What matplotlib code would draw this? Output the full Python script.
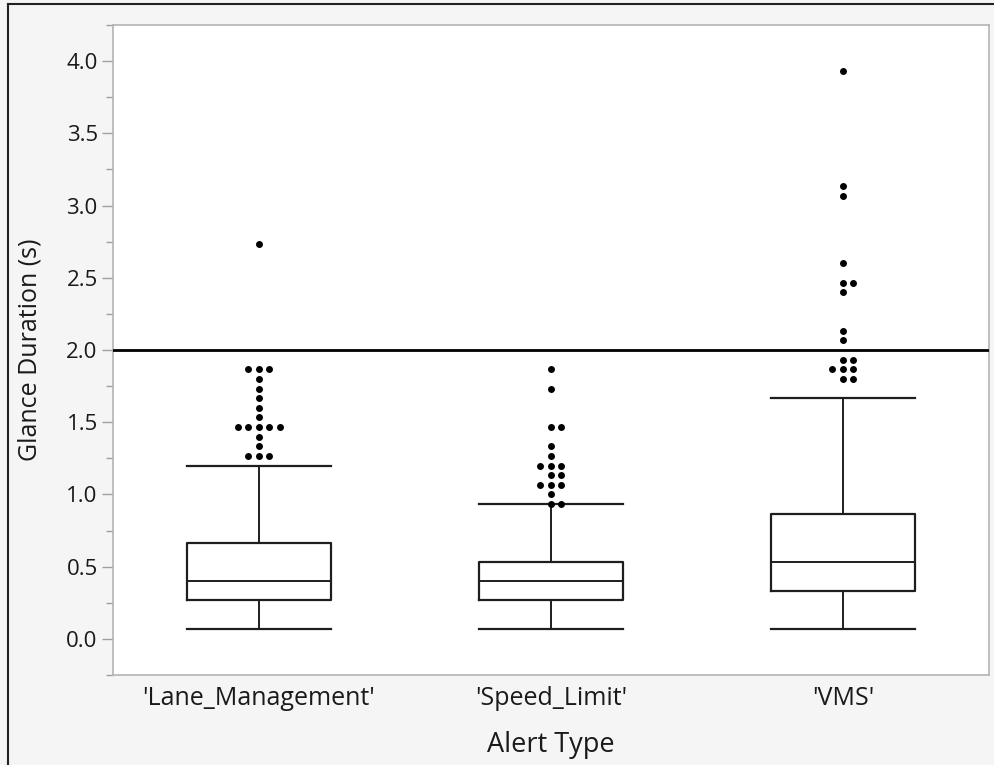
import numpy as np
import matplotlib
matplotlib.use("Agg")
import matplotlib.pyplot as plt
from matplotlib.lines import Line2D

plt.rcParams["font.family"] = ["Open Sans", "DejaVu Sans"]

# box statistics per alert type (seconds)
alert_types = ["'Lane_Management'", "'Speed_Limit'", "'VMS'"]
whisker_low = [0.067, 0.067, 0.067]
q1 = [0.267, 0.267, 0.333]
median = [0.400, 0.400, 0.533]
q3 = [0.667, 0.533, 0.867]
whisker_high = [1.200, 0.933, 1.667]

# outliers
lane_outliers = [2.733, 1.867, 1.867, 1.867, 1.8, 1.733, 1.667, 1.6, 1.533,
                 1.467, 1.467, 1.467, 1.467, 1.467, 1.4, 1.333,
                 1.267, 1.267, 1.267]
speed_outliers = [1.867, 1.733, 1.467, 1.467, 1.333, 1.267, 1.2, 1.2, 1.2,
                  1.133, 1.133, 1.067, 1.067, 1.067, 1.0, 0.933, 0.933]
vms_outliers = [3.933, 3.133, 3.067, 2.6, 2.467, 2.467, 2.4, 2.133, 2.067,
                1.933, 1.933, 1.867, 1.867, 1.867, 1.8, 1.8]
outliers = [lane_outliers, speed_outliers, vms_outliers]

threshold = 2.0

yticks = [0.0, 0.5, 1.0, 1.5, 2.0, 2.5, 3.0, 3.5, 4.0]

W, H = 995, 765
fig = plt.figure(figsize=(W / 100, H / 100), dpi=100, facecolor="#f5f5f5")
ax = fig.add_axes([113 / W, 1 - 675 / H, 876 / W, 650 / H])
ax.set_facecolor("white")

box_w = 0.49
dark = "#1e1e1e"
stats = []
for i, name in enumerate(alert_types):
    stats.append(dict(label=name, whislo=whisker_low[i], q1=q1[i], med=median[i],
                      q3=q3[i], whishi=whisker_high[i], fliers=[]))

ax.bxp(stats, positions=range(len(alert_types)), widths=box_w,
       capwidths=box_w, showfliers=False,
       boxprops=dict(color=dark, linewidth=1.6),
       medianprops=dict(color=dark, linewidth=1.4),
       whiskerprops=dict(color=dark, linewidth=1.4),
       capprops=dict(color=dark, linewidth=1.6))

ax.set_xlim(-0.5, 2.5)
ax.set_ylim(-0.25, 4.25)

# simple deterministic swarm layout for the outlier dots (pixel space)
px_x = 876 / 3.0
px_y = 650 / 4.5
dot = 7.0
for i, vals in enumerate(outliers):
    placed = []
    xs = []
    for v in vals:
        yp = v * px_y
        k = 0
        while True:
            cands = [0.0] if k == 0 else [k * dot * 0.75, -k * dot * 0.75]
            ok = None
            for c in cands:
                if all((c - px) ** 2 + (yp - py) ** 2 >= (dot * 0.95) ** 2
                       for px, py in placed):
                    ok = c
                    break
            if ok is not None:
                placed.append((ok, yp))
                xs.append(i + ok / px_x)
                break
            k += 1
    ax.plot(xs, vals, "o", color="black", markersize=5, markeredgewidth=0,
            zorder=4)

ax.axhline(threshold, color="black", linewidth=2, zorder=5)

ax.set_yticks(yticks)
ax.set_yticklabels([f"{t:.1f}" for t in yticks])
ax.set_yticks(np.arange(-0.25, 4.26, 0.25), minor=True)
ax.tick_params(axis="y", which="major", length=8, width=1, color="#a0a0a0",
               labelsize=16, labelcolor="#1a1a1a", pad=3)
ax.tick_params(axis="y", which="minor", length=5, width=1, color="#a0a0a0")
ax.tick_params(axis="x", length=0, labelsize=18, labelcolor="#1a1a1a", pad=8)

for s in ax.spines.values():
    s.set_color("#b4b4b4")
    s.set_linewidth(1.2)

ax.set_ylabel("Glance Duration (s)", fontsize=18, color="#1a1a1a", labelpad=17)
ax.set_xlabel("Alert Type", fontsize=19.5, color="#1a1a1a", labelpad=14)

# outer window frame (left and top edges)
fig.add_artist(Line2D([8 / W, 8 / W], [0, 1 - 4 / H], color="#222222",
                      linewidth=1.5, transform=fig.transFigure))
fig.add_artist(Line2D([8 / W, 1], [1 - 4 / H, 1 - 4 / H], color="#222222",
                      linewidth=1.5, transform=fig.transFigure))

fig.savefig("out.png", dpi=100, facecolor=fig.get_facecolor())
